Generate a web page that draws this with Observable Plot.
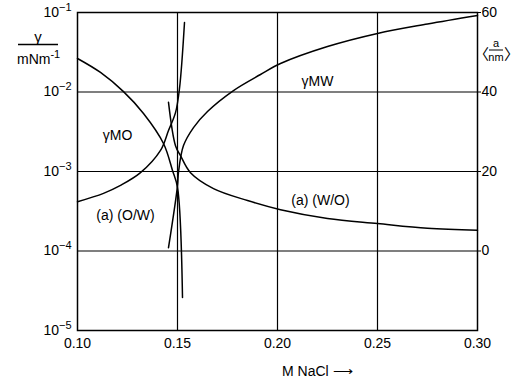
<!DOCTYPE html>
<html>
<head>
<meta charset="utf-8">
<script src="https://cdn.jsdelivr.net/npm/d3@7"></script>
<script src="https://cdn.jsdelivr.net/npm/@observablehq/plot@0.6"></script>
<style>
  html, body { margin: 0; padding: 0; background: white; }
  svg { overflow: visible; }
</style>
</head>
<body>
<div id="chart"></div>
<script>
// ---- data ----
const xTicks = [0.10, 0.15, 0.20, 0.25, 0.30];
const yTicks = [1e-5, 1e-4, 1e-3, 1e-2, 1e-1];
const aTicks = [0, 20, 40, 60];

// interfacial tensions (left, log axis, mN/m)
const gammaMO_x = [0.100, 0.1115, 0.123, 0.133, 0.143, 0.1475, 0.150, 0.1525];
const gammaMO_y = [0.0264, 0.0176, 0.0101, 0.00537, 0.00225, 0.00103, 0.00063, 2.6e-5];

const gammaMW_x = [0.1455, 0.150, 0.1505, 0.153, 0.158, 0.165, 0.178, 0.1915, 0.2015, 0.225, 0.25, 0.275, 0.30];
const gammaMW_y = [1.1e-4, 6.6e-4, 9.8e-4, 0.00212, 0.00357, 0.00569, 0.01044, 0.0166, 0.0228, 0.0373, 0.0545, 0.0717, 0.0917];

// droplet radius a (right, linear axis, nm)
const aOW_x = [0.100, 0.113, 0.1215, 0.1315, 0.1415, 0.1455, 0.149, 0.151, 0.1535];
const aOW_a = [12.4, 14.5, 16.5, 19.7, 25.3, 30.3, 34.8, 40.9, 57.5];

const aWO_x = [0.1455, 0.149, 0.1515, 0.1565, 0.168, 0.185, 0.2015, 0.225, 0.25, 0.275, 0.30];
const aWO_a = [37.4, 26.5, 24.0, 19.7, 15.7, 12.7, 10.4, 8.2, 6.9, 5.7, 5.2];

// curve labels
const labelText = ["γMO", "γMW", "(a) (O/W)", "(a) (W/O)"];
const labelX    = [0.120, 0.220, 0.124, 0.2215];
const labelY    = [2.8e-3, 0.0135, null, null];
const labelA    = [null, null, 8.9, 12.7];

// right axis: 20 nm per decade, 0 nm at 1e-4
const aToY = a => Math.pow(10, -4 + a / 20);
const yToA = y => Math.round(20 * (Math.log10(y) + 4));

const zip = (xs, ys) => xs.map((x, i) => ({x, y: ys[i]}));
const MO = zip(gammaMO_x, gammaMO_y);
const MW = zip(gammaMW_x, gammaMW_y);
const OW = zip(aOW_x, aOW_a.map(aToY));
const WO = zip(aWO_x, aWO_a.map(aToY));
const labels = labelText.map((t, i) => ({
  t, x: labelX[i], y: labelY[i] != null ? labelY[i] : aToY(labelA[i])
}));

const lineOpts = {x: "x", y: "y", stroke: "black", strokeWidth: 1.5, curve: "catmull-rom"};

const svg = Plot.plot({
  width: 520,
  height: 379,
  marginLeft: 77,
  marginRight: 43,
  marginTop: 12,
  marginBottom: 49,
  x: {domain: [0.1, 0.3]},
  y: {type: "log", domain: [1e-5, 1e-1]},
  style: {fontFamily: "'Liberation Sans', Arial, sans-serif", fontSize: "14px", color: "black", background: "white"},
  marks: [
    Plot.ruleY(yTicks.slice(1, -1), {stroke: "black", strokeWidth: 1.2}),
    Plot.ruleX(xTicks.slice(1, -1), {stroke: "black", strokeWidth: 1.2}),
    Plot.frame({stroke: "black", strokeWidth: 1.5}),
    Plot.axisX({ticks: xTicks, tickFormat: d3.format(".2f"), tickSize: 0, tickPadding: 8, label: null, fontSize: 14}),
    Plot.axisY({ticks: yTicks, tickFormat: d => "10^" + Math.round(Math.log10(d)), tickSize: 0, tickPadding: 6, label: null, fontSize: 14}),
    Plot.axisY({anchor: "right", ticks: aTicks.map(aToY), tickFormat: yToA, tickSize: 3, tickPadding: 1, label: null, fontSize: 14}),
    Plot.line(MO, lineOpts),
    Plot.line(MW, lineOpts),
    Plot.line(OW, lineOpts),
    Plot.line(WO, lineOpts),
    Plot.text(labels, {x: "x", y: "y", text: "t", fontSize: 14, fill: "black", textAnchor: "middle"})
  ]
});

// superscript exponents on the left axis
d3.select(svg).selectAll("text").each(function () {
  const m = /^10\^(-?\d+)$/.exec(this.textContent);
  if (m) {
    const e = m[1].replace("-", "−");
    const s = d3.select(this);
    s.text("10");
    s.append("tspan").attr("dy", "-0.55em").attr("font-size", "11px").text(e);
  }
});

// axis titles
const g = d3.select(svg).append("g").attr("fill", "black").attr("text-anchor", "start")
  .style("font-family", "'Liberation Sans', Arial, sans-serif");
// left: γ / mNm^-1
g.append("text").attr("x", 38).attr("y", 42).attr("text-anchor", "middle").attr("font-size", 15).text("γ");
g.append("line").attr("x1", 18).attr("x2", 58).attr("y1", 44.5).attr("y2", 44.5).attr("stroke", "black").attr("stroke-width", 1.3);
const t2 = g.append("text").attr("x", 17).attr("y", 64).attr("text-anchor", "start").attr("font-size", 14).text("mNm");
t2.append("tspan").attr("dy", "-6").attr("font-size", 11).text("-1");
// right: 〈a / nm〉
g.append("text").attr("x", 489).attr("y", 60).attr("text-anchor", "end")
  .style("font-family", "'Noto Sans CJK SC'").attr("font-size", 15).text("〈");
g.append("text").attr("x", 496).attr("y", 47).attr("text-anchor", "middle").attr("font-size", 11).text("a");
g.append("line").attr("x1", 489).attr("x2", 503).attr("y1", 50).attr("y2", 50).attr("stroke", "black").attr("stroke-width", 1);
g.append("text").attr("x", 496).attr("y", 61).attr("text-anchor", "middle").attr("font-size", 11).text("nm");
g.append("text").attr("x", 504).attr("y", 60).attr("text-anchor", "start")
  .style("font-family", "'Noto Sans CJK SC'").attr("font-size", 15).text("〉");
// x title
g.append("text").attr("x", 282).attr("y", 376).attr("text-anchor", "start").attr("font-size", 14).text("M NaCl ⟶");

document.getElementById("chart").appendChild(svg);
</script>
</body>
</html>
